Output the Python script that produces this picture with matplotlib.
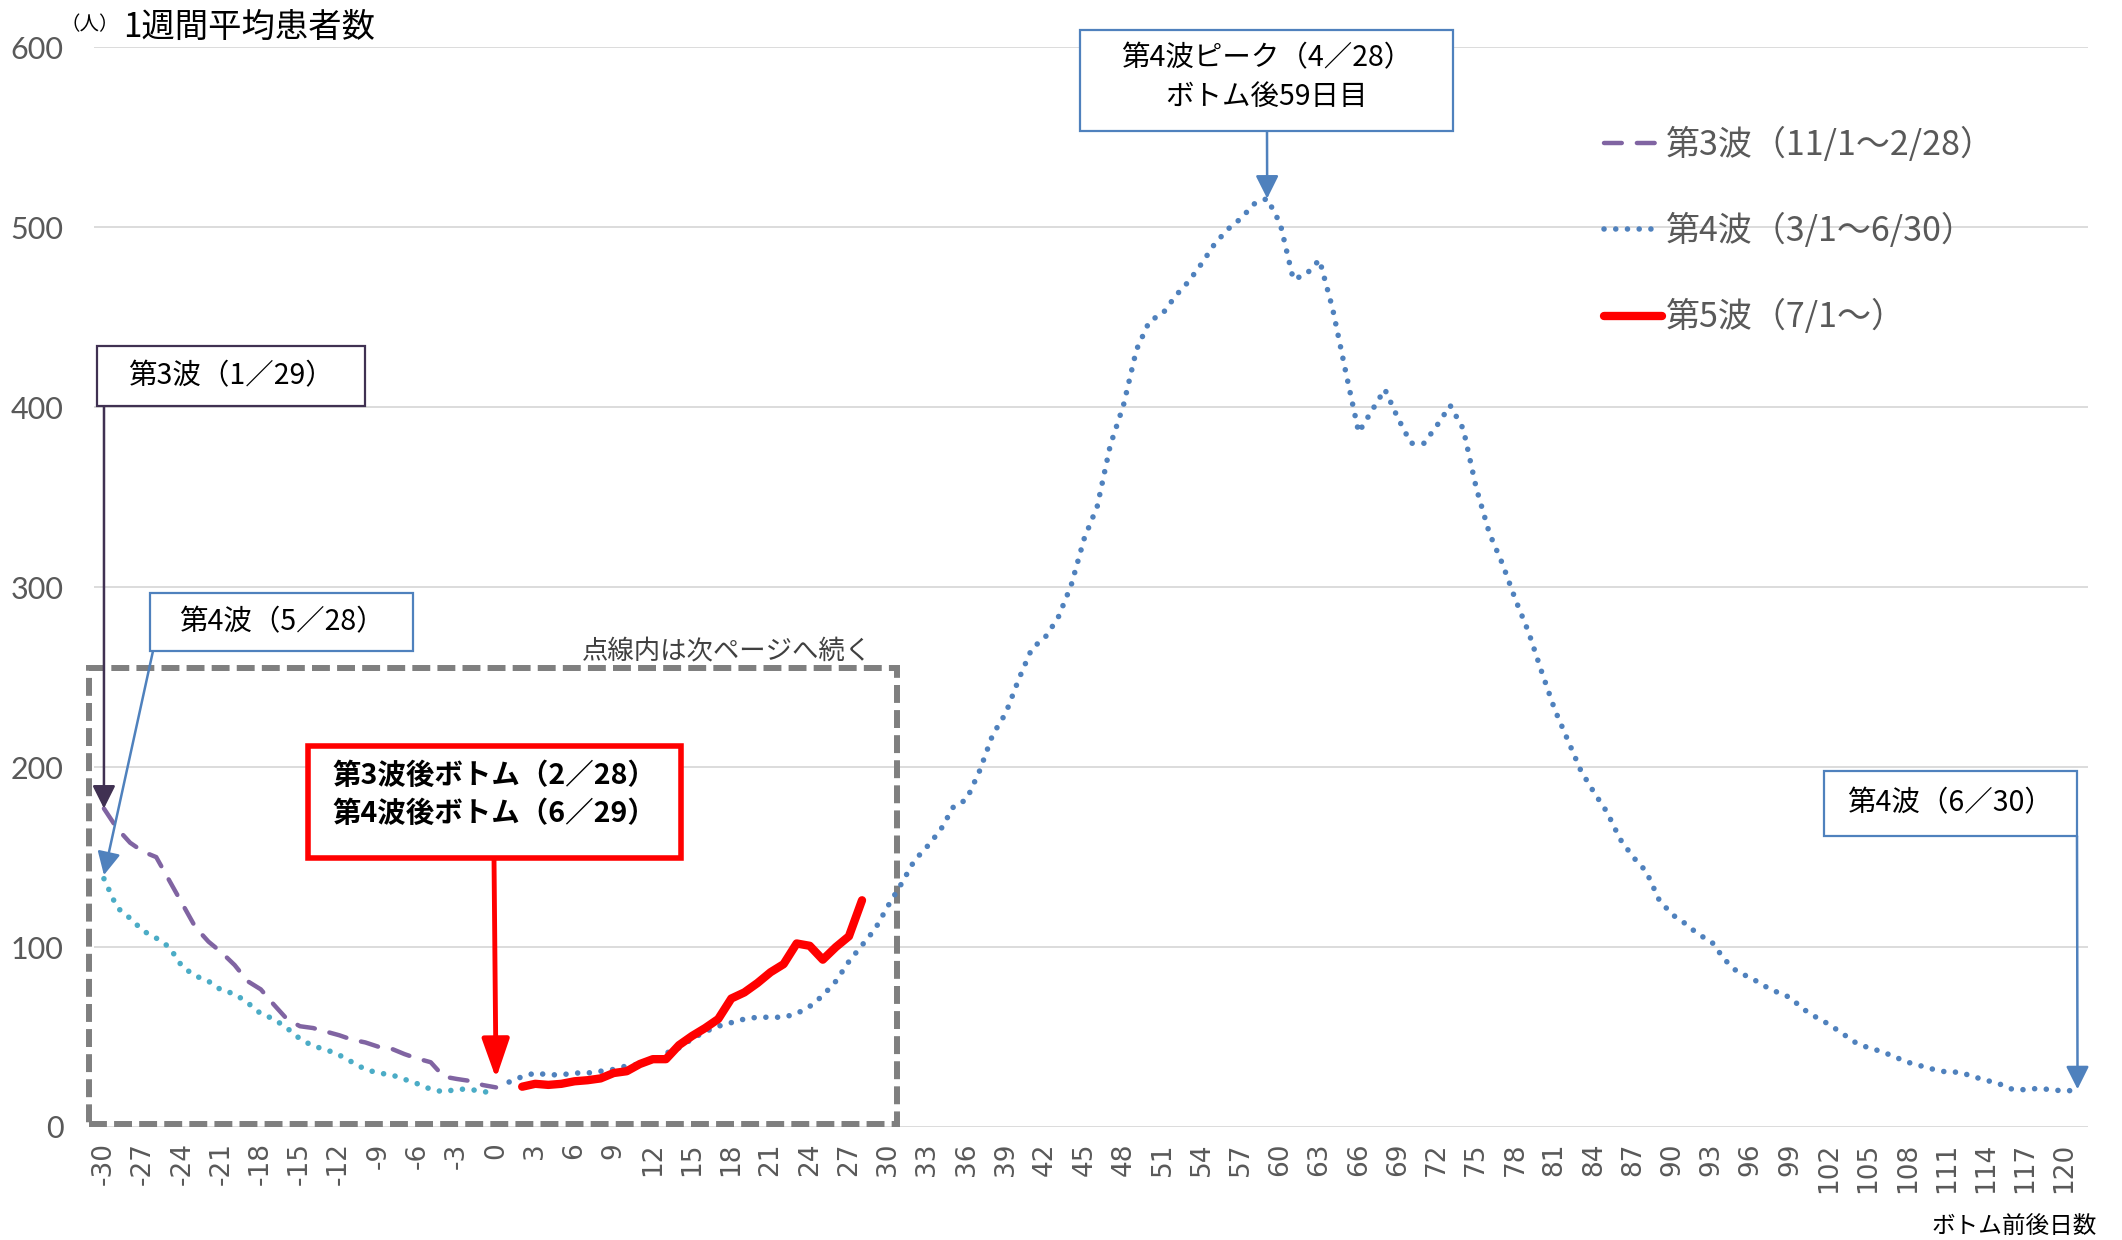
import matplotlib
matplotlib.use('Agg')
import matplotlib.pyplot as plt
from matplotlib.patches import Rectangle

# ---------------- data ----------------
days_w3 = list(range(-30, 1))
wave3 = [177, 166, 158, 153, 150, 137, 124, 111, 103, 97, 90, 81, 76.5, 68, 60, 56,
         55, 53, 51, 48.5, 47, 44.6, 43.5, 40.5, 38, 36, 28, 26.7, 25.6, 23.3, 22]

days_w4_tail = list(range(-30, 1))
wave4_tail = [138, 122, 116, 109, 105, 100, 89, 84, 81, 76, 74, 69, 63, 60, 55, 49,
              45, 43, 40, 36, 32, 30, 29, 26.5, 24, 21, 19.5, 21, 21, 19.5, 19.5]

days_w4 = list(range(1, 122))
wave4 = [25, 28, 30, 29, 29, 30, 30, 31, 32, 34, 35, 37, 41, 44, 49, 53, 56, 58, 60, 61,
         61, 61, 63, 67, 73, 81, 92, 101, 110, 123, 135, 148, 156, 165, 178, 182, 198, 218, 230, 249,
         266, 272, 283, 301, 327, 345, 379, 401, 432, 448, 452, 462, 470, 480, 491, 499, 505, 513, 516, 502,
         471, 474, 482, 455, 420, 386, 398, 410, 394, 380, 380, 390, 401, 388, 355, 330, 313, 293, 275, 253,
         232, 215, 198, 186, 175, 160, 150, 142, 126, 118, 113, 107, 103, 93, 86, 83, 78.5, 75, 72, 65.6,
         61, 57, 52, 47, 44, 42, 39, 36, 34, 32, 30.5, 30.5, 28, 26, 24, 21, 20.7, 21.5, 20.7, 20, 20.5]

days_w5 = list(range(2, 29))
wave5 = [22.4, 24, 23.4, 24, 25.4, 26, 27, 30, 31, 35, 37.7, 37.7, 45.5, 50.6, 55, 60, 71.4,
         74.8, 80, 86, 90.5, 102, 100.7, 93, 100, 106, 126]

legend_labels = ['第3波（11/1〜2/28）', '第4波（3/1〜6/30）', '第5波（7/1〜）']
xticks = list(range(-30, 121, 3))
yticks = list(range(0, 601, 100))

# ---------------- figure ----------------
W, H = 2122, 1240
fig = plt.figure(figsize=(W / 100, H / 100), dpi=100)
fig.patch.set_facecolor('white')
ax = fig.add_axes([94 / W, 1 - 1127 / H, (2088 - 94) / W, (1127 - 47.4) / H])

JP = ['Noto Sans CJK JP', 'DejaVu Sans']
GRAY = '#595959'

def fp(x, y):
    return (x / W, 1 - y / H)

l3, = ax.plot(days_w3, wave3, color='#8064A2', lw=3.2, linestyle=(0, (4.0, 3.4)),
              dash_capstyle='round', zorder=3)
ax.plot(days_w4_tail, wave4_tail, color='#4BACC6', lw=4, linestyle=(0, (0.01, 2.1)),
        dash_capstyle='round', zorder=3)
l4, = ax.plot(days_w4, wave4, color='#4F81BD', lw=4, linestyle=(0, (0.01, 2.1)),
              dash_capstyle='round', zorder=3)
l5, = ax.plot(days_w5, wave5, color='#FF0000', lw=6, solid_capstyle='round',
              solid_joinstyle='round', zorder=4)

ax.set_xlim(-30.76, 121.8)
ax.set_ylim(0, 600)
ax.set_yticks(yticks)
ax.set_xticks(xticks)
ax.set_xticklabels([str(t) for t in xticks], rotation=90, fontsize=19, color=GRAY,
                   family='DejaVu Sans')
ax.set_yticklabels([str(t) for t in yticks], fontsize=22, color=GRAY,
                   family=['Liberation Sans Narrow', 'Lato'])
ax.tick_params(axis='both', length=0)
ax.tick_params(axis='y', pad=22)
ax.tick_params(axis='x', pad=11)
ax.grid(axis='y', color='#D9D9D9', lw=1.3, zorder=0)
ax.set_axisbelow(True)
for s in ax.spines.values():
    s.set_visible(False)

# dashed region rectangle
ax.add_patch(Rectangle((-31.14, 1.7), 61.82, 253.3, fill=False, edgecolor='#7F7F7F',
                       lw=4.3, linestyle=(0, (3, 1.2)), clip_on=False, zorder=2))
fig.text(727 / W, 1 - 652 / H, '点線内は次ページへ続く', fontsize=19, color='#404040',
         family=JP, ha='center', va='center')

# legend
leg = ax.legend([l3, l4, l5], legend_labels, loc='upper left',
                bbox_to_anchor=(1604 / W, 1 - 128 / H), bbox_transform=fig.transFigure,
                frameon=False, prop={'family': JP, 'size': 24.5}, labelcolor=GRAY,
                handlelength=1.7, handletextpad=0.12, labelspacing=1.5,
                borderpad=0, borderaxespad=0)

# title
fig.text(119 / W, 1 - 25 / H, '（人）', fontsize=14, family=JP, color='black',
         ha='right', va='center')
fig.text(123 / W, 1 - 27 / H, '1週間平均患者数', fontsize=24, family=JP, color='black',
         va='center')
fig.text(2097 / W, 1 - 1226 / H, 'ボトム前後日数', fontsize=17, family=JP, color='black',
         ha='right', va='center')

# annotation boxes
def box(x0, y0, x1, y1, ec, lw):
    r = Rectangle(fp(x0, y1), (x1 - x0) / W, (y1 - y0) / H, transform=fig.transFigure,
                  facecolor='white', edgecolor=ec, lw=lw, zorder=5)
    fig.patches.append(r)

def arrow(xy, start, color, lw, ms, hl=0.7, hw=0.35):
    ax.annotate('', xy=xy, xycoords='data', xytext=fp(*start), textcoords='figure fraction',
                arrowprops=dict(arrowstyle=f'-|>,head_length={hl},head_width={hw}',
                                color=color, lw=lw, mutation_scale=ms,
                                shrinkA=0, shrinkB=0),
                annotation_clip=False, zorder=6)

PURP = '#403152'
BLUE = '#4F81BD'

box(97, 346, 365, 406, PURP, 1.6)
fig.text(231 / W, 1 - 376 / H, '第3波（1／29）', fontsize=20.5, family=JP, ha='center',
         va='center', zorder=7)
arrow((-30, 177), (104, 406), PURP, 1.8, 20)

box(150, 593, 413, 651, BLUE, 1.6)
fig.text(282 / W, 1 - 622 / H, '第4波（5／28）', fontsize=20.5, family=JP, ha='center',
         va='center', zorder=7)
arrow((-30, 140), (153, 651), BLUE, 1.8, 20)

box(308, 746, 681, 858, '#FF0000', 4)
fig.text(494 / W, 1 - 776 / H, '第3波後ボトム（2／28）', fontsize=20.5, family=JP,
         fontweight='bold', ha='center', va='center', zorder=7)
fig.text(494 / W, 1 - 814 / H, '第4波後ボトム（6／29）', fontsize=20.5, family=JP,
         fontweight='bold', ha='center', va='center', zorder=7)
arrow((0, 27), (494, 858), '#FF0000', 3.5, 30, hl=0.8, hw=0.28)

box(1080, 30, 1453, 131, BLUE, 1.6)
fig.text(1267 / W, 1 - 58 / H, '第4波ピーク（4／28）', fontsize=20.5, family=JP,
         ha='center', va='center', zorder=7)
fig.text(1267 / W, 1 - 97 / H, 'ボトム後59日目', fontsize=20.5, family=JP,
         ha='center', va='center', zorder=7)
arrow((59, 516), (1267, 131), BLUE, 1.8, 20)

box(1824, 771, 2077, 836, BLUE, 1.6)
fig.text(1950 / W, 1 - 803 / H, '第4波（6／30）', fontsize=20.5, family=JP, ha='center',
         va='center', zorder=7)
arrow((121, 21), (2077, 836), BLUE, 1.8, 20)

fig.savefig('out.png', dpi=100, facecolor='white')
